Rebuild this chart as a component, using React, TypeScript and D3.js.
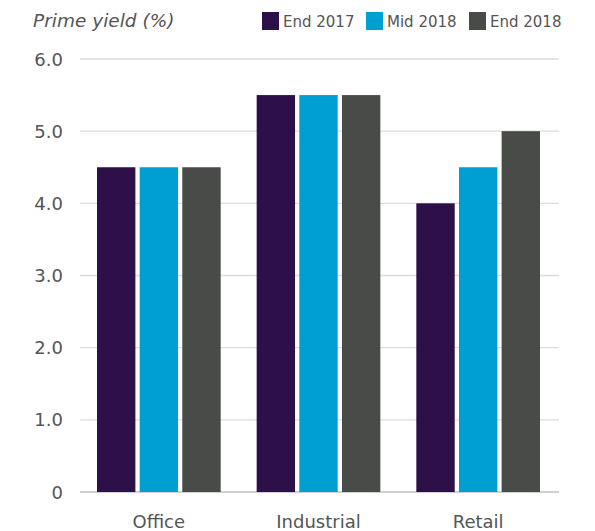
import React from "react";
import * as d3 from "d3";

const categories = ["Office", "Industrial", "Retail"];
const seriesNames = ["End 2017", "Mid 2018", "End 2018"];
const end2017 = [4.5, 5.5, 4.0];
const mid2018 = [4.5, 5.5, 4.5];
const end2018 = [4.5, 5.5, 5.0];
const yTicks = [0, 1, 2, 3, 4, 5, 6];
const colors = ["#2d1047", "#009fd1", "#494b48"];

const seriesValues = [end2017, mid2018, end2018];

export default function App() {
  const W = 595, H = 531;
  const font = "'DejaVu Sans', sans-serif";
  const x0 = d3.scaleBand().domain(categories).range([79, 558]).paddingInner(0).paddingOuter(0);
  const x1 = d3.scaleBand().domain(seriesNames).range([18, x0.bandwidth() - 18]).paddingInner(0.1).paddingOuter(0);
  const y = d3.scaleLinear().domain([0, 6]).range([492, 59]);

  const legendX = [262, 366, 469];

  return (
    <svg width={W} height={H} style={{ position: "absolute", left: 0, top: 0 }}>
      <rect width={W} height={H} fill="#fff" />
      <text x={33} y={27} fontFamily={font} fontStyle="italic" fontSize={18.5} fill="#555">Prime yield (%)</text>
      {seriesNames.map((s, i) => (
        <g key={s}>
          <rect x={legendX[i]} y={12} width={17} height={18} fill={colors[i]} />
          <text x={legendX[i] + 21} y={27} fontFamily={font} fontSize={15} fill="#555">{s}</text>
        </g>
      ))}
      {yTicks.map((t) => (
        <g key={t}>
          <line x1={80} x2={559} y1={y(t)} y2={y(t)} stroke={t === 0 ? "#d0d0d0" : "#dcdcdc"} strokeWidth={t === 0 ? 2 : 1.3} />
          <text x={63} y={y(t) + 6.5} textAnchor="end" fontFamily={font} fontSize={18} fill="#555">
            {t === 0 ? "0" : d3.format(".1f")(t)}
          </text>
        </g>
      ))}
      {categories.map((c, ci) => (
        <g key={c} transform={`translate(${x0(c)},0)`}>
          {seriesNames.map((s, si) => {
            const v = seriesValues[si][ci];
            return (
              <rect key={s} x={x1(s)} y={y(v)} width={x1.bandwidth()} height={y(0) - y(v)} fill={colors[si]} />
            );
          })}
          <text x={x0.bandwidth() / 2} y={528} textAnchor="middle" fontFamily={font} fontSize={18} fill="#555">{c}</text>
        </g>
      ))}
    </svg>
  );
}
